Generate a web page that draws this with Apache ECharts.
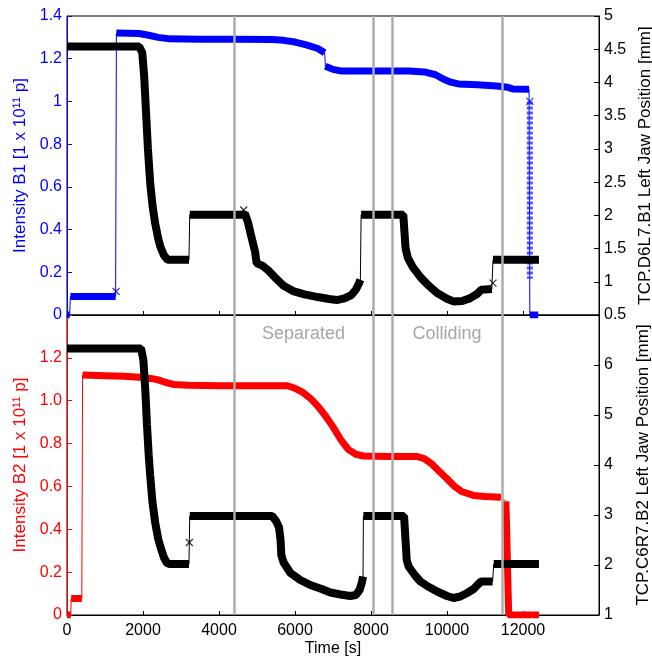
<!DOCTYPE html>
<html>
<head>
<meta charset="utf-8">
<script src="https://cdn.jsdelivr.net/npm/echarts@6/dist/echarts.min.js"></script>
<style>
  html, body { margin: 0; padding: 0; background: #ffffff; }
  #chart { width: 652px; height: 658px; }
</style>
</head>
<body>
<div id="chart"></div>
<script>
// ---- time axis ----
const timeMin = 0;
const timeMax = 14000;
const timeStep = 2000;

// ---- phase boundaries [s] and phase names ----
const phaseMarks = [4400, 8050, 8550, 11450];
const phaseNames = ['Separated', 'Colliding'];

// ---- B1 intensity [1e11 p] ----
const b1Time  = [0, 70, 90, 600, 1280, 1300, 1900, 2150, 2400, 2700, 3500, 4500, 5400, 5700, 6000, 6300, 6600, 6780,
                 6800, 7000, 7200, 8000, 9000, 9400, 9700, 9900, 10100, 10300, 10800, 11300, 11600, 11750, 12160, 12180, 12400];
const b1Value = [0, 0, 0.087, 0.087, 0.087, 1.32, 1.318, 1.31, 1.30, 1.293, 1.291, 1.291, 1.29, 1.286, 1.278, 1.265, 1.248, 1.228,
                 1.165, 1.15, 1.143, 1.142, 1.142, 1.138, 1.125, 1.105, 1.09, 1.082, 1.078, 1.072, 1.066, 1.058, 1.057, 0, 0];
const b1Jumps = [1, 4, 17, 32];
// beam dump sweep of B1
const b1DumpTime  = [12180, 12180];
const b1DumpValue = [1.0, 0.17];

// ---- TCP.D6L7.B1 left jaw [mm] ----
const j1Time  = [0, 1900, 1980, 2030, 2080, 2130, 2190, 2250, 2320, 2400, 2455, 2550, 2650, 3210,
                 3230, 4620, 4680, 4760, 4830, 4950, 4990, 5150, 5300, 5500, 5700, 5950, 6250, 6600, 6900, 7100, 7300, 7480, 7600, 7680, 7720,
                 7740, 8850, 8880, 8910, 8970, 9100, 9300, 9500, 9740, 10000, 10170, 10400, 10600, 10800, 10900, 11180,
                 11210, 12420];
const j1Value = [4.54, 4.54, 4.45, 4.1, 3.55, 3.0, 2.48, 2.15, 1.88, 1.65, 1.53, 1.4, 1.33, 1.33,
                 2.01, 2.01, 2.03, 1.9, 1.73, 1.45, 1.28, 1.24, 1.17, 1.05, 0.94, 0.86, 0.81, 0.77, 0.74, 0.725, 0.75, 0.8, 0.88, 0.97, 1.03,
                 2.01, 2.01, 1.75, 1.5, 1.36, 1.22, 1.07, 0.95, 0.83, 0.745, 0.705, 0.71, 0.75, 0.82, 0.88, 0.89,
                 1.33, 1.33];
const j1Jumps = [13, 34, 50];

// ---- B2 intensity [1e11 p] ----
const b2Time  = [0, 100, 110, 390, 410, 1000, 1500, 1900, 2200, 2400, 2600, 2800, 3200, 4000, 5000, 5800, 6000, 6200, 6400,
                 6600, 6800, 7000, 7200, 7400, 7600, 7800, 8500, 9200, 9400, 9600, 9800, 10000, 10200, 10400, 10700, 11000, 11420,
                 11550, 11570, 11590, 11610, 11625, 12420];
const b2Value = [0, 0, 0.077, 0.077, 1.12, 1.117, 1.114, 1.11, 1.104, 1.097, 1.085, 1.076, 1.072, 1.07, 1.07, 1.07, 1.058, 1.04, 1.012,
                 0.975, 0.93, 0.878, 0.82, 0.773, 0.75, 0.742, 0.74, 0.74, 0.73, 0.705, 0.67, 0.636, 0.6, 0.575, 0.558, 0.553, 0.55,
                 0.53, 0.4, 0.25, 0.1, 0, 0];
const b2Jumps = [1, 3, 36];

// ---- TCP.C6R7.B2 left jaw [mm] ----
const j2Time  = [0, 1950, 2010, 2060, 2105, 2150, 2190, 2250, 2320, 2400, 2455, 2550, 2630, 2700, 3210,
                 3230, 5400, 5500, 5580, 5620, 5640, 5700, 5880, 6140, 6400, 6700, 6930, 7200, 7450, 7600, 7700, 7760, 7790,
                 7800, 8870, 8900, 8940, 8990, 9150, 9300, 9500, 9740, 10000, 10170, 10350, 10530, 10700, 10800, 10900, 11200,
                 11230, 12420];
const j2Value = [6.33, 6.33, 6.1, 5.5, 4.8, 4.2, 3.78, 3.25, 2.85, 2.52, 2.375, 2.15, 2.04, 2.02, 2.02,
                 2.98, 2.98, 2.88, 2.75, 2.5, 2.2, 2.05, 1.84, 1.70, 1.6, 1.52, 1.45, 1.41, 1.38, 1.40, 1.5, 1.65, 1.77,
                 2.98, 2.98, 2.6, 2.1, 1.97, 1.8, 1.67, 1.57, 1.47, 1.38, 1.34, 1.37, 1.44, 1.52, 1.6, 1.67, 1.67,
                 2.02, 2.02];
const j2Jumps = [14, 32, 49];

// ---- isolated samples on the transfer lines ----
const b1CrossTime  = [1290, 12180];
const b1CrossValue = [0.11, 1.0];
const j1CrossTime  = [4650, 11210];
const j1CrossValue = [2.08, 0.98];
const j2CrossTime  = [3220];
const j2CrossValue = [2.45];

// ---- colours ----
const BLUE = '#0000ff';
const RED = '#ff0000';
const BLACK = '#000000';
const GRAY = '#adadad';
const FONT = '"Liberation Sans", Arial, Helvetica, sans-serif';

function pairs(t, v) {
  return t.map((x, i) => [x, v[i]]);
}
// dense sampling drawn as a thick band, broken at the jumps
function bandData(t, v, jumps) {
  const out = [];
  for (let i = 0; i < t.length; i++) {
    out.push([t[i], v[i]]);
    if (jumps.indexOf(i) >= 0) out.push([t[i], '-']);
  }
  return out;
}
const CROSS = 'path://M0,0L10,10M10,0L0,10';

function traceSeries(name, t, v, jumps, color, width, xi, yi) {
  return [
    { name: name + ' link', type: 'line', xAxisIndex: xi, yAxisIndex: yi, data: pairs(t, v),
      symbol: 'none', silent: true, lineStyle: { color: color, width: 1 }, z: 2 },
    { name: name, type: 'line', xAxisIndex: xi, yAxisIndex: yi, data: bandData(t, v, jumps),
      symbol: 'none', silent: true, connectNulls: false,
      lineStyle: { color: color, width: width, cap: 'butt', join: 'bevel' }, z: 3 }
  ];
}
function crossSeries(t, v, color, xi, yi) {
  return { type: 'scatter', xAxisIndex: xi, yAxisIndex: yi, data: pairs(t, v), silent: true,
           symbol: CROSS, symbolSize: 7,
           itemStyle: { color: 'rgba(0,0,0,0)', borderColor: color, borderWidth: 1.2 }, z: 4 };
}

function yAxis(grid, pos, min, max, step, color, name, gap, fmt) {
  return {
    type: 'value', gridIndex: grid, position: pos, min: min, max: max, interval: step,
    name: name, nameLocation: 'middle', nameGap: gap, nameRotate: 90,
    nameTextStyle: { color: color, fontSize: 17, fontFamily: FONT },
    axisLine: { show: true, lineStyle: { color: color, width: 1 } },
    axisTick: { show: true, inside: true, length: 5, lineStyle: { color: color } },
    axisLabel: { color: color, fontSize: 16, fontFamily: FONT, margin: 5, formatter: fmt },
    splitLine: { show: false }
  };
}
function xAxis(grid, showLabels) {
  return {
    type: 'value', gridIndex: grid, min: timeMin, max: timeMax, interval: timeStep,
    name: showLabels ? 'Time [s]' : '', nameLocation: 'middle', nameGap: 26,
    nameTextStyle: { color: BLACK, fontSize: 16, fontFamily: FONT },
    axisLine: { show: true, lineStyle: { color: BLACK, width: 1 } },
    axisTick: { show: true, inside: true, length: 4, lineStyle: { color: BLACK } },
    axisLabel: { show: showLabels, color: BLACK, fontSize: 16, fontFamily: FONT, margin: 8,
                 formatter: v => (v >= timeMax ? '' : String(v)) },
    splitLine: { show: false }
  };
}

const phaseLine = {
  symbol: 'none', silent: true, animation: false, label: { show: false },
  lineStyle: { color: GRAY, width: 2.5, type: 'solid' },
  data: phaseMarks.map(t => ({ xAxis: t }))
};

const series = [];
// phase boundaries across both panels, with phase names in the lower panel
series.push({ type: 'line', xAxisIndex: 0, yAxisIndex: 0, data: [], z: 10, silent: true, markLine: phaseLine });
series.push({
  type: 'line', xAxisIndex: 1, yAxisIndex: 2, data: [], z: 10, silent: true,
  markLine: phaseLine,
  markArea: { silent: true, itemStyle: { color: 'rgba(0,0,0,0)' },
              label: { show: true, position: 'insideTop', distance: 10, color: '#a6a6a6', fontSize: 18, fontFamily: FONT },
              data: [
                [{ xAxis: phaseMarks[0], name: phaseNames[0] }, { xAxis: phaseMarks[1] }],
                [{ xAxis: phaseMarks[2], name: phaseNames[1] }, { xAxis: phaseMarks[3] }]
              ] }
});

series.push(...traceSeries('B1', b1Time, b1Value, b1Jumps, BLUE, 7, 0, 0));
series.push({ type: 'line', xAxisIndex: 0, yAxisIndex: 0, data: pairs(b1DumpTime, b1DumpValue), symbol: 'none', silent: true,
              lineStyle: { color: 'rgba(40,40,255,0.8)', width: 6, type: [3, 2], cap: 'butt' }, z: 3 });
series.push(crossSeries(b1CrossTime, b1CrossValue, BLUE, 0, 0));
series.push(...traceSeries('TCP.D6L7.B1', j1Time, j1Value, j1Jumps, BLACK, 8, 0, 1));
series.push(crossSeries(j1CrossTime, j1CrossValue, BLACK, 0, 1));

series.push(...traceSeries('B2', b2Time, b2Value, b2Jumps, RED, 7, 1, 2));
series.push(...traceSeries('TCP.C6R7.B2', j2Time, j2Value, j2Jumps, BLACK, 8, 1, 3));
series.push(crossSeries(j2CrossTime, j2CrossValue, BLACK, 1, 3));

const chart = echarts.init(document.getElementById('chart'), null, { renderer: 'canvas' });
chart.setOption({
  animation: false,
  backgroundColor: '#ffffff',
  textStyle: { fontFamily: FONT },
  grid: [
    { left: 67, right: 53, top: 16, height: 299, outerBoundsMode: 'none', containLabel: false,
      show: true, borderColor: BLACK, borderWidth: 1, backgroundColor: 'transparent' },
    { left: 67, right: 53, top: 315, height: 300, outerBoundsMode: 'none', containLabel: false,
      show: true, borderColor: BLACK, borderWidth: 1, backgroundColor: 'transparent' }
  ],
  xAxis: [xAxis(0, false), xAxis(1, true)],
  yAxis: [
    yAxis(0, 'left', 0, 1.4, 0.2, BLUE, 'Intensity B1 [1 x 10\u00b9\u00b9 p]', 32, v => String(+v.toFixed(1))),
    yAxis(0, 'right', 0.5, 5, 0.5, BLACK, 'TCP.D6L7.B1 Left Jaw Position [mm]', 36, v => String(+v.toFixed(1))),
    yAxis(1, 'left', 0, 1.4, 0.2, RED, 'Intensity B2 [1 x 10\u00b9\u00b9 p]', 32, v => (v === 0 ? '0' : (v > 1.35 ? '' : v.toFixed(1)))),
    yAxis(1, 'right', 1, 7, 1, BLACK, 'TCP.C6R7.B2 Left Jaw Position [mm]', 36, v => (v > 6.5 ? '' : String(v)))
  ],
  series: series
});
</script>
</body>
</html>
